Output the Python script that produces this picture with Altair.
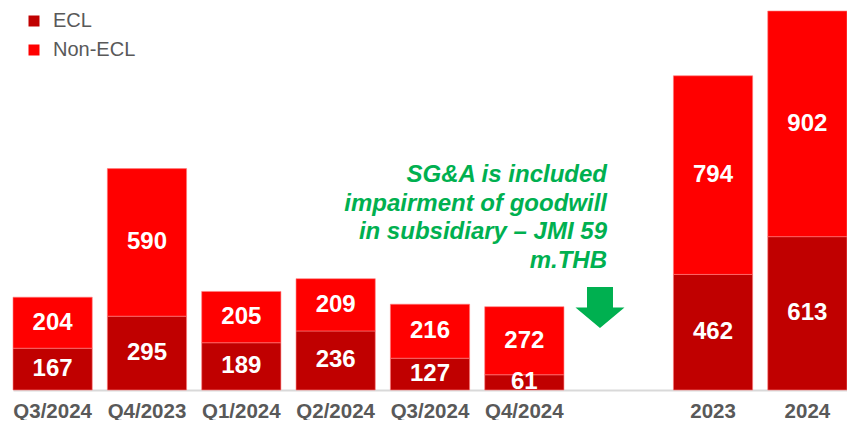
import altair as alt
import pandas as pd

periods = ["Q3/2024", "Q4/2023", "Q1/2024", "Q2/2024", "Q3/2024", "Q4/2024", "", "2023", "2024"]
ecl = [167, 295, 189, 236, 127, 61, None, 462, 613]
non_ecl = [204, 590, 205, 209, 216, 272, None, 794, 902]
series = ["ECL", "Non-ECL"]
colors = ["#C00000", "#FF0000"]
note_lines = ["SG&A is included", "impairment of goodwill", "in subsidiary – JMI 59", "m.THB"]
note_slot = "6"
note_value = 831
arrow_value = 330

rows = []
for i, (e, n) in enumerate(zip(ecl, non_ecl)):
    if e is None:
        continue
    rows.append(dict(key=str(i), series="ECL", rank=0, value=e))
    rows.append(dict(key=str(i), series="Non-ECL", rank=1, value=n))
df = pd.DataFrame(rows)

keys = [str(i) for i in range(len(periods))]
label_expr = "[" + ",".join("'" + p + "'" for p in periods) + "][toNumber(datum.value)]"

FONT = "Liberation Sans"
xenc = alt.X(
    "key:N",
    scale=alt.Scale(domain=keys, paddingInner=0.16, paddingOuter=0),
    axis=alt.Axis(title=None, labelExpr=label_expr, labelAngle=0, ticks=False,
                  domainColor="#D9D9D9", domainWidth=2, labelFont=FONT, labelFontWeight="bold",
                  labelFontSize=20.5, labelColor="#595959", labelBaseline="alphabetic",
                  labelPadding=27),
)
yscale = alt.Scale(domain=[0, 1527], nice=False, zero=True)

base = alt.Chart(df).transform_stack(
    stack="value", groupby=["key"], as_=["v0", "v1"], sort=[alt.SortField("rank")]
).transform_calculate(mid="(datum.v0 + datum.v1) / 2")

bars = base.mark_bar(stroke="#ff8080", strokeWidth=0.6).encode(
    x=xenc,
    y=alt.Y("v1:Q", scale=yscale, axis=None),
    y2="v0:Q",
    color=alt.Color("series:N", scale=alt.Scale(domain=series, range=colors),
                    legend=alt.Legend(title=None, orient="none", legendX=11, legendY=3,
                                      symbolType="square", symbolSize=121, symbolStrokeWidth=0,
                                      labelFontSize=20, labelFont=FONT, labelColor="#595959",
                                      rowPadding=9, labelOffset=9, padding=0)),
)

labels = base.mark_text(color="white", fontWeight="bold", fontSize=24, font=FONT,
                        baseline="middle", align="center").encode(
    x=xenc,
    y=alt.Y("mid:Q", scale=yscale, axis=None),
    text="value:Q",
)

note = alt.Chart(pd.DataFrame({"key": [note_slot], "yv": [note_value]})).mark_text(
    text=note_lines, align="right", baseline="alphabetic", dx=-11.7, font=FONT,
    fontSize=24, fontWeight="bold", fontStyle="italic", color="#00B050", lineHeight=28.5,
).encode(x=xenc, y=alt.Y("yv:Q", scale=yscale, axis=None))

arrow_path = "M -1.546 -1 L -0.278 -1 L -0.278 0 L 0.283 0 L -0.912 1 L -2.107 0 L -1.546 0 Z"
arrow = alt.Chart(pd.DataFrame({"key": [note_slot], "yv": [arrow_value]})).mark_point(
    shape=arrow_path, size=1681, filled=True, color="#00B050", opacity=1, strokeWidth=0,
).encode(x=xenc, y=alt.Y("yv:Q", scale=yscale, axis=None))

chart = alt.layer(bars, labels, note, arrow).properties(
    width=834, height=382,
    autosize=alt.AutoSizeParams(type="none"),
    padding={"left": 5, "top": 0, "right": 0, "bottom": 30},
).configure(background="white").configure_view(stroke=None)

chart.save("out.html", embed_options={"renderer": "svg", "actions": False})
